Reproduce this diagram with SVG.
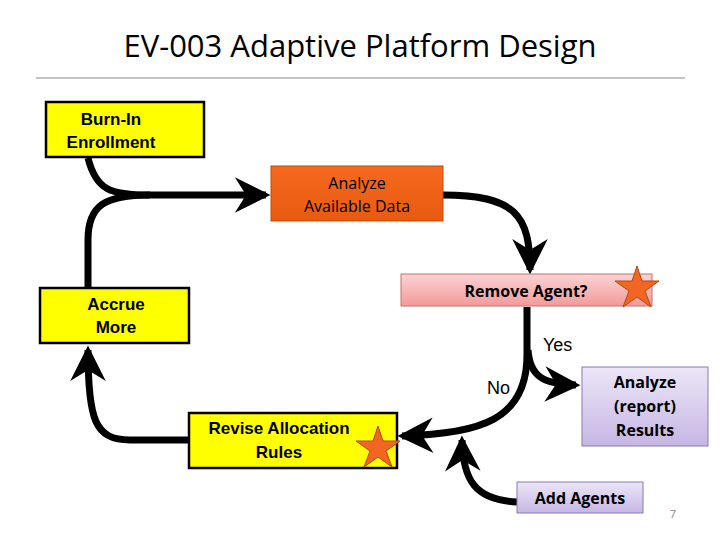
<svg xmlns="http://www.w3.org/2000/svg" width="720" height="540" viewBox="0 0 720 540">
<style>
.yb{fill:#ffff00;stroke:#000;stroke-width:2.5}
.t{font-family:"Liberation Sans",Arial,sans-serif;font-weight:bold;font-size:17px;text-anchor:middle;fill:#000}
.c{font-family:"Open Sans","Liberation Sans",sans-serif;font-size:16px;text-anchor:middle;fill:#000}
.cb{font-family:"Open Sans","Liberation Sans",sans-serif;font-weight:bold;font-size:16px;text-anchor:middle;fill:#000}
.lbl{font-family:"Liberation Sans",Arial,sans-serif;font-size:18px;fill:#000}
.con{fill:none;stroke:#000;stroke-width:7}
.star{fill:#f26522;stroke:#b04a10;stroke-width:1}
</style>
<defs>
<marker id="ah" markerUnits="userSpaceOnUse" markerWidth="40" markerHeight="40" viewBox="-30 -18 36 36" refX="0" refY="0" orient="auto">
<path d="M4,0 L-28,-16 L-18,0 L-28,16 Z" fill="#000"/>
</marker>
<linearGradient id="gp" x1="0" y1="0" x2="0" y2="1"><stop offset="0" stop-color="#fbd3d3"/><stop offset="1" stop-color="#f29a9a"/></linearGradient>
<linearGradient id="gl" x1="0" y1="0" x2="0" y2="1"><stop offset="0" stop-color="#ece6f7"/><stop offset="1" stop-color="#c6b6e4"/></linearGradient>
<linearGradient id="go" x1="0" y1="0" x2="0" y2="1"><stop offset="0" stop-color="#f46a1e"/><stop offset="1" stop-color="#e85a10"/></linearGradient>
</defs>
<text x="360" y="57" font-family="Open Sans,Liberation Sans,sans-serif" font-size="31" text-anchor="middle">EV-003 Adaptive Platform Design</text>
<line x1="36" y1="78" x2="685" y2="78" stroke="#888" stroke-width="1"/>
<g id="connectors">
<path class="con" d="M88,158 C96,190 110,195 150,195 L266,195" marker-end="url(#ah)"/>
<path class="con" d="M88,288 L88,240 C88,205 105,195 150,195"/>
<path class="con" d="M443,195 C515,195 530,215 530,270" marker-end="url(#ah)"/>
<path class="con" d="M527,307 L527,355 C527,420 480,434 402,436" marker-end="url(#ah)"/>
<path class="con" d="M528,350 C530,378 545,384 576,385" marker-end="url(#ah)"/>
<path class="con" d="M517,502 C475,500 463,480 462,440" marker-end="url(#ah)"/>
<path class="con" d="M189,440 L130,440 C95,440 88,420 88,350" marker-end="url(#ah)"/>
</g>
<g id="burnin"><rect x="46" y="102" width="158" height="55" class="yb"/><text class="t" x="111" y="125">Burn-In</text><text class="t" x="111" y="148">Enrollment</text></g>
<g id="analyze"><rect x="271" y="166" width="172" height="55" fill="url(#go)" stroke="#c04a10"/><text class="c" x="357" y="189">Analyze</text><text class="c" x="357" y="212">Available Data</text></g>
<g id="remove"><rect x="401" y="274" width="251" height="32" fill="url(#gp)" stroke="#c07070"/><text class="cb" x="526" y="297">Remove Agent?</text>
<polygon class="star" points="637,266 642,281 659,281 645,291 651,307 637,297 623,307 629,291 615,281 632,281"/></g>
<g id="accrue"><rect x="40" y="288" width="149" height="55" class="yb"/><text class="t" x="116" y="310">Accrue</text><text class="t" x="116" y="333">More</text></g>
<text class="lbl" x="543" y="351">Yes</text>
<text class="lbl" x="487" y="394">No</text>
<g id="results"><rect x="582" y="367" width="126" height="79" fill="url(#gl)" stroke="#8a7ab0"/><text class="cb" x="645" y="388">Analyze</text><text class="cb" x="645" y="412">(report)</text><text class="cb" x="645" y="436">Results</text></g>
<g id="revise"><rect x="189" y="413" width="208" height="55" class="yb"/><text class="t" x="279" y="434">Revise Allocation</text><text class="t" x="279" y="458">Rules</text>
<polygon class="star" points="378,426 383,441 400,441 386,451 392,467 378,457 364,467 370,451 356,441 373,441"/></g>
<g id="add"><rect x="517" y="482" width="126" height="31" fill="url(#gl)" stroke="#8a7ab0"/><text class="cb" x="580" y="504">Add Agents</text></g>
<text x="673" y="518" font-family="Open Sans,sans-serif" font-size="11" fill="#888" text-anchor="middle">7</text>
</svg>
